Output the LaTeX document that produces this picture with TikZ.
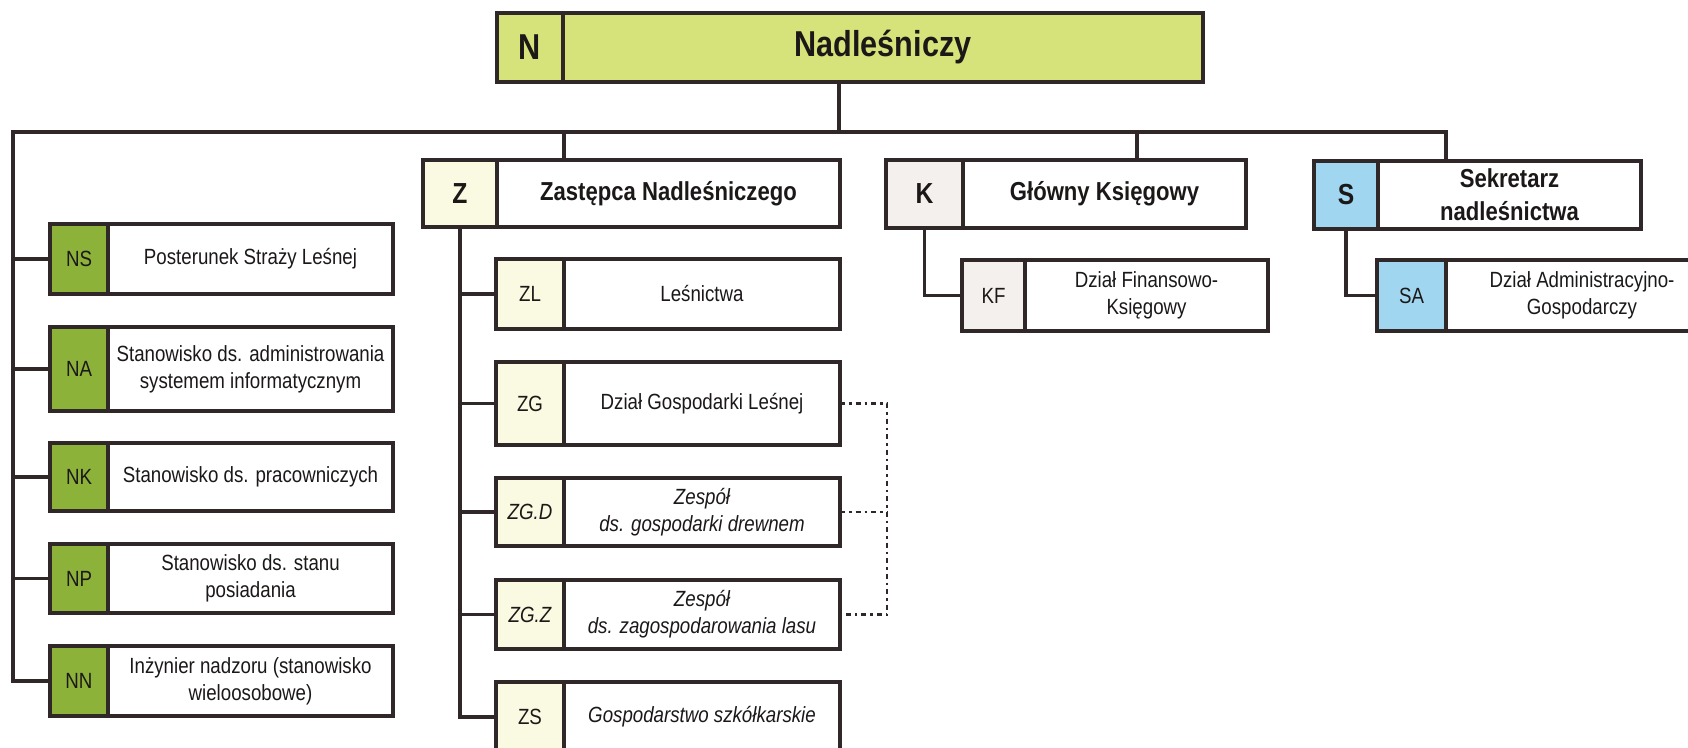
\documentclass[tikz,border=0pt]{standalone}
\usepackage{fontspec}
\setmainfont{Liberation Sans}[FakeStretch=0.85]
\usetikzlibrary{positioning}

\definecolor{ink}{RGB}{28,24,24}
\definecolor{edge}{RGB}{48,40,40}
\definecolor{nlime}{RGB}{214,226,122}
\definecolor{ngreen}{RGB}{141,178,58}
\definecolor{zcream}{RGB}{250,250,226}
\definecolor{kgrey}{RGB}{244,240,238}
\definecolor{sblue}{RGB}{160,214,240}

\tikzset{
    code/.style={draw=edge, line width=3.8pt, outer sep=0pt, inner sep=0pt, text=ink, align=center},
    box/.style={draw=edge, line width=3.8pt, outer sep=0pt, inner sep=0pt, fill=white, text=ink, align=center},
    link/.style={draw=edge, line width=3.4pt},
    dotlink/.style={draw=edge, line width=2.6pt, dash pattern=on 5pt off 4pt on 2.5pt off 4pt},
    huge/.style={font=\fontsize{36}{40}\selectfont\bfseries},
    bigcode/.style={font=\fontsize{29}{33}\selectfont\bfseries},
    head/.style={font=\fontsize{26}{33}\selectfont\bfseries},
    plain/.style={font=\fontsize{22}{27}\selectfont},
    slant/.style={font=\fontsize{22}{27}\selectfont\itshape}
}

\begin{document}
\begin{tikzpicture}[x=1pt, y=-1pt]
    \useasboundingbox (0, 0) rectangle (1688, 747);

    % Nadlesniczy
    \node (n) at (530, 47.5) [code, huge, fill=nlime, minimum width=66, minimum height=69] {N};
    \node (nt) [box, huge, fill=nlime, right=0pt of n, minimum width=640, minimum height=69] {Nadleśniczy};

    % second level
    \node (z) at (460, 193.5) [code, bigcode, fill=zcream, minimum width=74, minimum height=67] {Z};
    \node (zt) [box, head, right=0pt of z, minimum width=343, minimum height=67] {Zastępca Nadleśniczego};

    \node (k) at (924.5, 194) [code, bigcode, fill=kgrey, minimum width=77, minimum height=68] {K};
    \node (kt) [box, head, right=0pt of k, minimum width=283, minimum height=68] {Główny Księgowy};

    \node (s) at (1346, 195) [code, bigcode, fill=sblue, minimum width=64, minimum height=68] {S};
    \node (st) [box, head, right=0pt of s, minimum width=263, minimum height=68] {Sekretarz\\nadleśnictwa};

    % stanowiska N
    \foreach \n/\c/\y/\h/\t in {ns/NS/259/70/{Posterunek Straży Leśnej},
            na/NA/369/84/{Stanowisko ds. administrowania\\systemem informatycznym},
            nk/NK/477/68/{Stanowisko ds. pracowniczych},
            np/NP/578.5/69/{Stanowisko ds. stanu\\posiadania},
            nn/NN/681/70/{Inżynier nadzoru (stanowisko\\wieloosobowe)}}{
        \node (\n) at (79, \y) [code, plain, fill=ngreen, minimum width=58, minimum height=\h] {\c};
        \node (\n t) [box, plain, right=0pt of \n, minimum width=285, minimum height=\h] {\t};
    }

    % komorki Z
    \node (zl) at (530, 294) [code, plain, fill=zcream, minimum width=68, minimum height=70] {ZL};
    \node (zlt) [box, plain, right=0pt of zl, minimum width=276, minimum height=70] {Leśnictwa};
    \node (zg) at (530, 403.5) [code, plain, fill=zcream, minimum width=68, minimum height=83] {ZG};
    \node (zgt) [box, plain, right=0pt of zg, minimum width=276, minimum height=83] {Dział Gospodarki Leśnej};
    \node (zgd) at (530, 512) [code, slant, fill=zcream, minimum width=68, minimum height=68] {ZG.D};
    \node (zgdt) [box, slant, right=0pt of zgd, minimum width=276, minimum height=68] {Zespół\\ds. gospodarki drewnem};
    \node (zgz) at (530, 614.5) [code, slant, fill=zcream, minimum width=68, minimum height=69] {ZG.Z};
    \node (zgzt) [box, slant, right=0pt of zgz, minimum width=276, minimum height=69] {Zespół\\ds. zagospodarowania lasu};
    \node (zs) at (530, 717) [code, plain, fill=zcream, minimum width=68, minimum height=70] {ZS};
    \node (zst) [box, slant, right=0pt of zs, minimum width=276, minimum height=70] {Gospodarstwo szkółkarskie};

    % komorki K i S
    \node (kf) at (993.5, 295.5) [code, plain, fill=kgrey, minimum width=63, minimum height=71] {KF};
    \node (kft) [box, plain, right=0pt of kf, minimum width=243, minimum height=71] {Dział Finansowo-\\Księgowy};
    \node (sa) at (1411.5, 295.5) [code, plain, fill=sblue, minimum width=69, minimum height=71] {SA};
    \node (sat) [box, plain, right=0pt of sa, minimum width=272, minimum height=71] {Dział Administracyjno-\\Gospodarczy};

    % szyna
    \coordinate (busL) at (13, 132);
    \coordinate (busR) at (1446, 132);
    \coordinate (tapN) at (839, 132);
    \coordinate (tapZ) at (564, 132);
    \coordinate (tapK) at (1137, 132);
    \coordinate (dashX) at (887, 0);

    \draw [link] (tapN |- nt.south) -- (tapN);
    \draw [link] (nn.west) -| (busL) -- (busR) -- (busR |- st.north);
    \draw [link] (tapZ) -- (tapZ |- zt.north);
    \draw [link] (tapK) -- (tapK |- kt.north);
    \foreach \b in {ns, na, nk, np}
        \draw [link] (\b.west) -- (\b.west -| busL);

    \draw [link] (z.south) |- (zs.west);
    \foreach \b in {zl, zg, zgd, zgz}
        \draw [link] (\b.west) -- (\b.west -| z.south);
    \draw [link] (k.south) |- (kf.west);
    \draw [link] (s.south) |- (sa.west);

    \draw [dotlink] (zgt.east) -- (zgt.east -| dashX) -- (zgzt.east -| dashX) -- (zgzt.east);
    \draw [dotlink] (zgdt.east) -- (zgdt.east -| dashX);
\end{tikzpicture}
\end{document}
